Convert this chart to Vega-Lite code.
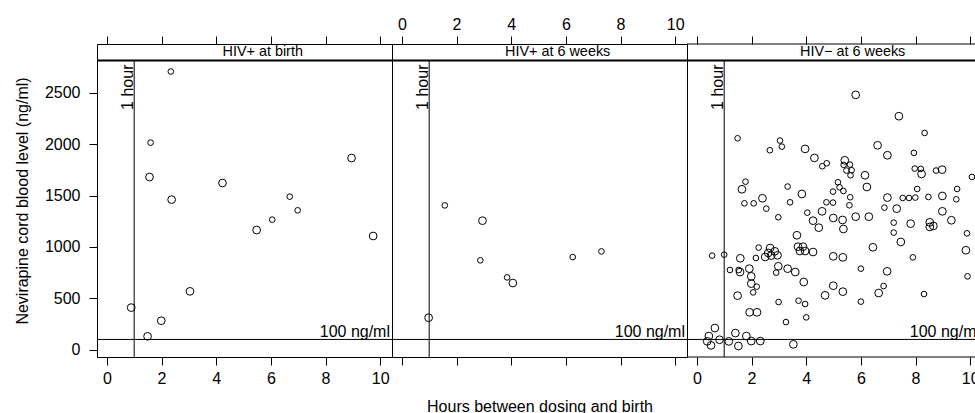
{
  "$schema": "https://vega.github.io/schema/vega-lite/v6.json",
  "background": "white",
  "padding": {"left": 13, "top": 15, "right": 0, "bottom": 0},
  "spacing": 0,
  "bounds": "flush",
  "config": {
    "font": "Liberation Sans",
    "view": {"stroke": "black", "strokeWidth": 1},
    "axis": {"domain": false, "grid": false, "ticks": true, "tickColor": "black", "tickSize": 8, "tickWidth": 1,
      "labelColor": "black", "labelFontSize": 16, "labelFont": "Liberation Sans",
      "titleFont": "Liberation Sans", "titleFontSize": 16, "titleFontWeight": "normal", "titleColor": "black"},
    "axisY": {"orient": "left", "values": [0, 500, 1000, 1500, 2000, 2500], "format": "d", "labelPadding": 9, "titlePadding": 14}
  },
  "datasets": {
    "strips": [
      {"panel": "A", "title": "HIV+ at birth"},
      {"panel": "B", "title": "HIV+ at 6 weeks"},
      {"panel": "C", "title": "HIV− at 6 weeks"}
    ],
    "pts": [
      {"panel":"A","hours":0.89,"nvp":410,"grp":"l"},
      {"panel":"A","hours":1.49,"nvp":130,"grp":"l"},
      {"panel":"A","hours":1.99,"nvp":282,"grp":"l"},
      {"panel":"A","hours":3.04,"nvp":568,"grp":"l"},
      {"panel":"A","hours":1.6,"nvp":2016,"grp":"s"},
      {"panel":"A","hours":1.56,"nvp":1681,"grp":"l"},
      {"panel":"A","hours":2.34,"nvp":2708,"grp":"s"},
      {"panel":"A","hours":2.37,"nvp":1461,"grp":"l"},
      {"panel":"A","hours":4.23,"nvp":1623,"grp":"l"},
      {"panel":"A","hours":5.48,"nvp":1165,"grp":"l"},
      {"panel":"A","hours":6.05,"nvp":1266,"grp":"s"},
      {"panel":"A","hours":6.69,"nvp":1490,"grp":"s"},
      {"panel":"A","hours":6.98,"nvp":1357,"grp":"s"},
      {"panel":"A","hours":8.95,"nvp":1866,"grp":"l"},
      {"panel":"A","hours":9.74,"nvp":1107,"grp":"l"},
      {"panel":"B","hours":1.57,"nvp":1405,"grp":"s"},
      {"panel":"B","hours":2.95,"nvp":1256,"grp":"l"},
      {"panel":"B","hours":2.87,"nvp":870,"grp":"s"},
      {"panel":"B","hours":3.85,"nvp":704,"grp":"s"},
      {"panel":"B","hours":4.06,"nvp":649,"grp":"l"},
      {"panel":"B","hours":6.25,"nvp":902,"grp":"s"},
      {"panel":"B","hours":7.30,"nvp":957,"grp":"s"},
      {"panel":"B","hours":0.98,"nvp":311,"grp":"l"},
      {"panel":"C","hours":5.81,"nvp":2481,"grp":"l"},
      {"panel":"C","hours":7.39,"nvp":2273,"grp":"l"},
      {"panel":"C","hours":8.33,"nvp":2110,"grp":"s"},
      {"panel":"C","hours":1.49,"nvp":2058,"grp":"s"},
      {"panel":"C","hours":3.04,"nvp":2036,"grp":"s"},
      {"panel":"C","hours":3.11,"nvp":1977,"grp":"s"},
      {"panel":"C","hours":2.67,"nvp":1942,"grp":"s"},
      {"panel":"C","hours":3.96,"nvp":1955,"grp":"l"},
      {"panel":"C","hours":6.61,"nvp":1990,"grp":"l"},
      {"panel":"C","hours":6.97,"nvp":1893,"grp":"l"},
      {"panel":"C","hours":7.94,"nvp":1916,"grp":"s"},
      {"panel":"C","hours":4.30,"nvp":1867,"grp":"l"},
      {"panel":"C","hours":4.75,"nvp":1815,"grp":"s"},
      {"panel":"C","hours":4.59,"nvp":1786,"grp":"s"},
      {"panel":"C","hours":5.41,"nvp":1844,"grp":"l"},
      {"panel":"C","hours":5.37,"nvp":1799,"grp":"s"},
      {"panel":"C","hours":5.60,"nvp":1802,"grp":"s"},
      {"panel":"C","hours":5.47,"nvp":1744,"grp":"s"},
      {"panel":"C","hours":5.66,"nvp":1747,"grp":"s"},
      {"panel":"C","hours":5.62,"nvp":1698,"grp":"s"},
      {"panel":"C","hours":6.15,"nvp":1698,"grp":"l"},
      {"panel":"C","hours":7.97,"nvp":1763,"grp":"s"},
      {"panel":"C","hours":8.19,"nvp":1760,"grp":"s"},
      {"panel":"C","hours":8.22,"nvp":1711,"grp":"l"},
      {"panel":"C","hours":8.75,"nvp":1744,"grp":"s"},
      {"panel":"C","hours":8.97,"nvp":1753,"grp":"l"},
      {"panel":"C","hours":10.06,"nvp":1682,"grp":"s"},
      {"panel":"C","hours":1.78,"nvp":1636,"grp":"s"},
      {"panel":"C","hours":1.65,"nvp":1562,"grp":"l"},
      {"panel":"C","hours":3.32,"nvp":1588,"grp":"s"},
      {"panel":"C","hours":5.16,"nvp":1630,"grp":"s"},
      {"panel":"C","hours":5.22,"nvp":1581,"grp":"s"},
      {"panel":"C","hours":4.98,"nvp":1539,"grp":"s"},
      {"panel":"C","hours":5.36,"nvp":1545,"grp":"s"},
      {"panel":"C","hours":6.22,"nvp":1584,"grp":"l"},
      {"panel":"C","hours":3.84,"nvp":1516,"grp":"l"},
      {"panel":"C","hours":2.40,"nvp":1474,"grp":"l"},
      {"panel":"C","hours":1.74,"nvp":1425,"grp":"s"},
      {"panel":"C","hours":2.08,"nvp":1425,"grp":"s"},
      {"panel":"C","hours":2.54,"nvp":1373,"grp":"s"},
      {"panel":"C","hours":3.41,"nvp":1435,"grp":"s"},
      {"panel":"C","hours":4.74,"nvp":1435,"grp":"s"},
      {"panel":"C","hours":4.98,"nvp":1432,"grp":"s"},
      {"panel":"C","hours":5.61,"nvp":1484,"grp":"s"},
      {"panel":"C","hours":5.58,"nvp":1406,"grp":"s"},
      {"panel":"C","hours":6.97,"nvp":1481,"grp":"l"},
      {"panel":"C","hours":7.53,"nvp":1477,"grp":"s"},
      {"panel":"C","hours":7.76,"nvp":1477,"grp":"s"},
      {"panel":"C","hours":7.99,"nvp":1481,"grp":"s"},
      {"panel":"C","hours":8.47,"nvp":1487,"grp":"s"},
      {"panel":"C","hours":8.98,"nvp":1497,"grp":"l"},
      {"panel":"C","hours":9.52,"nvp":1565,"grp":"s"},
      {"panel":"C","hours":9.49,"nvp":1464,"grp":"s"},
      {"panel":"C","hours":6.86,"nvp":1383,"grp":"s"},
      {"panel":"C","hours":7.31,"nvp":1373,"grp":"l"},
      {"panel":"C","hours":4.04,"nvp":1334,"grp":"s"},
      {"panel":"C","hours":4.58,"nvp":1347,"grp":"l"},
      {"panel":"C","hours":2.98,"nvp":1289,"grp":"s"},
      {"panel":"C","hours":4.25,"nvp":1256,"grp":"l"},
      {"panel":"C","hours":4.99,"nvp":1282,"grp":"l"},
      {"panel":"C","hours":5.33,"nvp":1263,"grp":"l"},
      {"panel":"C","hours":5.81,"nvp":1295,"grp":"l"},
      {"panel":"C","hours":6.29,"nvp":1295,"grp":"l"},
      {"panel":"C","hours":4.46,"nvp":1188,"grp":"l"},
      {"panel":"C","hours":5.36,"nvp":1175,"grp":"l"},
      {"panel":"C","hours":7.20,"nvp":1237,"grp":"s"},
      {"panel":"C","hours":7.82,"nvp":1227,"grp":"l"},
      {"panel":"C","hours":8.52,"nvp":1240,"grp":"l"},
      {"panel":"C","hours":8.65,"nvp":1205,"grp":"l"},
      {"panel":"C","hours":8.52,"nvp":1195,"grp":"l"},
      {"panel":"C","hours":8.98,"nvp":1347,"grp":"l"},
      {"panel":"C","hours":9.31,"nvp":1260,"grp":"l"},
      {"panel":"C","hours":7.20,"nvp":1140,"grp":"s"},
      {"panel":"C","hours":9.88,"nvp":1133,"grp":"s"},
      {"panel":"C","hours":3.66,"nvp":1114,"grp":"l"},
      {"panel":"C","hours":7.46,"nvp":1049,"grp":"l"},
      {"panel":"C","hours":2.26,"nvp":994,"grp":"s"},
      {"panel":"C","hours":2.68,"nvp":990,"grp":"l"},
      {"panel":"C","hours":2.61,"nvp":942,"grp":"l"},
      {"panel":"C","hours":2.85,"nvp":958,"grp":"l"},
      {"panel":"C","hours":2.95,"nvp":919,"grp":"l"},
      {"panel":"C","hours":2.50,"nvp":903,"grp":"l"},
      {"panel":"C","hours":2.72,"nvp":916,"grp":"l"},
      {"panel":"C","hours":3.70,"nvp":1003,"grp":"l"},
      {"panel":"C","hours":3.88,"nvp":1003,"grp":"l"},
      {"panel":"C","hours":3.77,"nvp":961,"grp":"l"},
      {"panel":"C","hours":3.96,"nvp":961,"grp":"l"},
      {"panel":"C","hours":4.25,"nvp":951,"grp":"l"},
      {"panel":"C","hours":0.56,"nvp":916,"grp":"s"},
      {"panel":"C","hours":1.00,"nvp":925,"grp":"s"},
      {"panel":"C","hours":1.59,"nvp":890,"grp":"l"},
      {"panel":"C","hours":2.16,"nvp":893,"grp":"s"},
      {"panel":"C","hours":6.44,"nvp":997,"grp":"l"},
      {"panel":"C","hours":4.99,"nvp":909,"grp":"l"},
      {"panel":"C","hours":5.34,"nvp":899,"grp":"l"},
      {"panel":"C","hours":7.90,"nvp":899,"grp":"s"},
      {"panel":"C","hours":9.84,"nvp":968,"grp":"l"},
      {"panel":"C","hours":2.98,"nvp":812,"grp":"l"},
      {"panel":"C","hours":1.21,"nvp":776,"grp":"s"},
      {"panel":"C","hours":1.92,"nvp":789,"grp":"l"},
      {"panel":"C","hours":1.53,"nvp":776,"grp":"s"},
      {"panel":"C","hours":1.58,"nvp":756,"grp":"l"},
      {"panel":"C","hours":3.32,"nvp":789,"grp":"l"},
      {"panel":"C","hours":3.60,"nvp":756,"grp":"l"},
      {"panel":"C","hours":2.90,"nvp":750,"grp":"s"},
      {"panel":"C","hours":6.00,"nvp":789,"grp":"s"},
      {"panel":"C","hours":6.96,"nvp":763,"grp":"l"},
      {"panel":"C","hours":1.99,"nvp":714,"grp":"l"},
      {"panel":"C","hours":9.90,"nvp":714,"grp":"s"},
      {"panel":"C","hours":3.91,"nvp":659,"grp":"l"},
      {"panel":"C","hours":1.99,"nvp":643,"grp":"l"},
      {"panel":"C","hours":2.19,"nvp":614,"grp":"s"},
      {"panel":"C","hours":2.06,"nvp":558,"grp":"s"},
      {"panel":"C","hours":1.49,"nvp":526,"grp":"l"},
      {"panel":"C","hours":4.99,"nvp":623,"grp":"l"},
      {"panel":"C","hours":5.34,"nvp":565,"grp":"l"},
      {"panel":"C","hours":6.83,"nvp":620,"grp":"s"},
      {"panel":"C","hours":6.65,"nvp":552,"grp":"l"},
      {"panel":"C","hours":4.69,"nvp":529,"grp":"l"},
      {"panel":"C","hours":8.31,"nvp":542,"grp":"s"},
      {"panel":"C","hours":2.99,"nvp":464,"grp":"s"},
      {"panel":"C","hours":3.72,"nvp":477,"grp":"s"},
      {"panel":"C","hours":3.96,"nvp":445,"grp":"s"},
      {"panel":"C","hours":6.00,"nvp":468,"grp":"s"},
      {"panel":"C","hours":1.93,"nvp":364,"grp":"l"},
      {"panel":"C","hours":2.20,"nvp":364,"grp":"l"},
      {"panel":"C","hours":4.00,"nvp":315,"grp":"s"},
      {"panel":"C","hours":3.26,"nvp":269,"grp":"s"},
      {"panel":"C","hours":0.66,"nvp":211,"grp":"l"},
      {"panel":"C","hours":0.44,"nvp":133,"grp":"l"},
      {"panel":"C","hours":1.41,"nvp":162,"grp":"l"},
      {"panel":"C","hours":1.81,"nvp":133,"grp":"l"},
      {"panel":"C","hours":0.38,"nvp":81,"grp":"l"},
      {"panel":"C","hours":0.52,"nvp":42,"grp":"l"},
      {"panel":"C","hours":0.83,"nvp":97,"grp":"l"},
      {"panel":"C","hours":1.17,"nvp":81,"grp":"l"},
      {"panel":"C","hours":1.52,"nvp":36,"grp":"l"},
      {"panel":"C","hours":1.99,"nvp":84,"grp":"l"},
      {"panel":"C","hours":2.32,"nvp":84,"grp":"l"},
      {"panel":"C","hours":3.53,"nvp":52,"grp":"l"},
      {"panel":"C","hours":8.06,"nvp":1565,"grp":"s"}
    ]
  },
  "hconcat": [
    {
      "width": 295, "height": 313,
      "resolve": {"axis": {"x": "independent"}},
      "layer": [
        {"data": {"name": "pts"}, "transform": [{"filter": "datum.panel === 'A'"}],
         "mark": {"type": "point", "shape": "circle", "filled": false, "color": "black", "strokeWidth": 1, "opacity": 1},
         "encoding": {
           "x": {"field": "hours", "type": "quantitative", "scale": {"domain": [-0.36, 10.43], "nice": false, "zero": false},
                 "axis": {"orient": "bottom", "values": [0, 2, 4, 6, 8, 10], "title": null, "labelPadding": 5}},
           "y": {"field": "nvp", "type": "quantitative", "scale": {"domain": [-71, 2976], "nice": false, "zero": false},
                 "title": "Nevirapine cord blood level (ng/ml)"},
           "size": {"field": "grp", "type": "ordinal", "scale": {"domain": ["s", "l"], "range": [32, 60]}, "legend": null}
         }},
        {"data": {"name": "strips"}, "transform": [{"filter": "datum.panel === 'A'"}],
         "mark": {"type": "rule", "color": "black", "strokeWidth": 1},
         "encoding": {
           "x": {"datum": 1, "type": "quantitative", "axis": {"orient": "top", "values": [0, 2, 4, 6, 8, 10], "labels": false, "title": null}},
           "y": {"datum": -71, "type": "quantitative", "title": "Nevirapine cord blood level (ng/ml)"}, "y2": {"datum": 2815}}},
        {"data": {"name": "strips"}, "transform": [{"filter": "datum.panel === 'A'"}],
         "mark": {"type": "rule", "color": "black", "strokeWidth": 1},
         "encoding": {"y": {"datum": 100, "type": "quantitative", "title": "Nevirapine cord blood level (ng/ml)"}}},
        {"data": {"name": "strips"}, "transform": [{"filter": "datum.panel === 'A'"}],
         "mark": {"type": "rule", "color": "black", "strokeWidth": 2},
         "encoding": {"y": {"datum": 2815, "type": "quantitative", "title": "Nevirapine cord blood level (ng/ml)"}}},
        {"data": {"name": "strips"}, "transform": [{"filter": "datum.panel === 'A'"}],
         "mark": {"type": "text", "text": "1 hour", "angle": 270, "align": "right", "baseline": "alphabetic", "dx": -4, "dy": -1.5, "fontSize": 16, "color": "black"},
         "encoding": {"x": {"datum": 1, "type": "quantitative", "axis": null}, "y": {"datum": 2815, "type": "quantitative", "title": "Nevirapine cord blood level (ng/ml)"}}},
        {"data": {"name": "strips"}, "transform": [{"filter": "datum.panel === 'A'"}],
         "mark": {"type": "text", "text": "100 ng/ml", "align": "right", "baseline": "alphabetic", "dx": -2, "dy": -2, "fontSize": 16, "color": "black"},
         "encoding": {"x": {"datum": 10.43, "type": "quantitative", "axis": null}, "y": {"datum": 100, "type": "quantitative", "title": "Nevirapine cord blood level (ng/ml)"}}},
        {"data": {"name": "strips"}, "transform": [{"filter": "datum.panel === 'A'"}],
         "mark": {"type": "text", "align": "center", "baseline": "middle", "fontSize": 14.4, "color": "black"},
         "encoding": {"text": {"field": "title"}, "x": {"datum": 5.7, "type": "quantitative", "axis": null}, "y": {"datum": 2895, "type": "quantitative", "title": "Nevirapine cord blood level (ng/ml)"}}}
      ]
    },
    {
      "width": 295, "height": 313,
      "resolve": {"axis": {"x": "independent"}},
      "layer": [
        {"data": {"name": "pts"}, "transform": [{"filter": "datum.panel === 'B'"}],
         "mark": {"type": "point", "shape": "circle", "filled": false, "color": "black", "strokeWidth": 1, "opacity": 1},
         "encoding": {
           "x": {"field": "hours", "type": "quantitative", "scale": {"domain": [-0.36, 10.43], "nice": false, "zero": false},
                 "axis": {"orient": "top", "values": [0, 2, 4, 6, 8, 10], "title": null, "labelPadding": 4}},
           "y": {"field": "nvp", "type": "quantitative", "scale": {"domain": [-71, 2976], "nice": false, "zero": false}, "axis": null},
           "size": {"field": "grp", "type": "ordinal", "scale": {"domain": ["s", "l"], "range": [32, 60]}, "legend": null}
         }},
        {"data": {"name": "strips"}, "transform": [{"filter": "datum.panel === 'B'"}],
         "mark": {"type": "rule", "color": "black", "strokeWidth": 1},
         "encoding": {
           "x": {"datum": 1, "type": "quantitative", "axis": {"orient": "bottom", "values": [0, 2, 4, 6, 8, 10], "labelOpacity": 0, "labelPadding": 5, "title": "Hours between dosing and birth", "titlePadding": 12}},
           "y": {"datum": -71, "type": "quantitative", "axis": null}, "y2": {"datum": 2815}}},
        {"data": {"name": "strips"}, "transform": [{"filter": "datum.panel === 'B'"}],
         "mark": {"type": "rule", "color": "black", "strokeWidth": 1},
         "encoding": {"y": {"datum": 100, "type": "quantitative", "axis": null}}},
        {"data": {"name": "strips"}, "transform": [{"filter": "datum.panel === 'B'"}],
         "mark": {"type": "rule", "color": "black", "strokeWidth": 2},
         "encoding": {"y": {"datum": 2815, "type": "quantitative", "axis": null}}},
        {"data": {"name": "strips"}, "transform": [{"filter": "datum.panel === 'B'"}],
         "mark": {"type": "text", "text": "1 hour", "angle": 270, "align": "right", "baseline": "alphabetic", "dx": -4, "dy": -1.5, "fontSize": 16, "color": "black"},
         "encoding": {"x": {"datum": 1, "type": "quantitative", "axis": null}, "y": {"datum": 2815, "type": "quantitative", "axis": null}}},
        {"data": {"name": "strips"}, "transform": [{"filter": "datum.panel === 'B'"}],
         "mark": {"type": "text", "text": "100 ng/ml", "align": "right", "baseline": "alphabetic", "dx": -2, "dy": -2, "fontSize": 16, "color": "black"},
         "encoding": {"x": {"datum": 10.43, "type": "quantitative", "axis": null}, "y": {"datum": 100, "type": "quantitative", "axis": null}}},
        {"data": {"name": "strips"}, "transform": [{"filter": "datum.panel === 'B'"}],
         "mark": {"type": "text", "align": "center", "baseline": "middle", "fontSize": 14.4, "color": "black"},
         "encoding": {"text": {"field": "title"}, "x": {"datum": 5.7, "type": "quantitative", "axis": null}, "y": {"datum": 2895, "type": "quantitative", "axis": null}}}
      ]
    },
    {
      "width": 289, "height": 313,
      "view": {"stroke": null},
      "resolve": {"axis": {"x": "independent"}},
      "layer": [
        {"data": {"name": "pts"}, "transform": [{"filter": "datum.panel === 'C'"}],
         "mark": {"type": "point", "shape": "circle", "filled": false, "color": "black", "strokeWidth": 1, "opacity": 1},
         "encoding": {
           "x": {"field": "hours", "type": "quantitative", "scale": {"domain": [-0.36, 10.21], "nice": false, "zero": false},
                 "axis": {"orient": "bottom", "values": [0, 2, 4, 6, 8, 10], "title": null, "labelPadding": 5}},
           "y": {"field": "nvp", "type": "quantitative", "scale": {"domain": [-71, 2976], "nice": false, "zero": false}, "axis": null},
           "size": {"field": "grp", "type": "ordinal", "scale": {"domain": ["s", "l"], "range": [32, 60]}, "legend": null}
         }},
        {"data": {"name": "strips"}, "transform": [{"filter": "datum.panel === 'C'"}],
         "mark": {"type": "rule", "color": "black", "strokeWidth": 1},
         "encoding": {
           "x": {"datum": 1, "type": "quantitative", "axis": {"orient": "top", "values": [0, 2, 4, 6, 8, 10], "labels": false, "title": null}},
           "y": {"datum": -71, "type": "quantitative", "axis": null}, "y2": {"datum": 2815}}},
        {"data": {"name": "strips"}, "transform": [{"filter": "datum.panel === 'C'"}],
         "mark": {"type": "rule", "color": "black", "strokeWidth": 1},
         "encoding": {"y": {"datum": 100, "type": "quantitative", "axis": null}}},
        {"data": {"name": "strips"}, "transform": [{"filter": "datum.panel === 'C'"}],
         "mark": {"type": "rule", "color": "black", "strokeWidth": 1},
         "encoding": {"y": {"datum": 2976, "type": "quantitative", "axis": null}}},
        {"data": {"name": "strips"}, "transform": [{"filter": "datum.panel === 'C'"}],
         "mark": {"type": "rule", "color": "black", "strokeWidth": 1},
         "encoding": {"y": {"datum": -71, "type": "quantitative", "axis": null}}},
        {"data": {"name": "strips"}, "transform": [{"filter": "datum.panel === 'C'"}],
         "mark": {"type": "rule", "color": "black", "strokeWidth": 2},
         "encoding": {"y": {"datum": 2815, "type": "quantitative", "axis": null}}},
        {"data": {"name": "strips"}, "transform": [{"filter": "datum.panel === 'C'"}],
         "mark": {"type": "text", "text": "1 hour", "angle": 270, "align": "right", "baseline": "alphabetic", "dx": -4, "dy": -1.5, "fontSize": 16, "color": "black"},
         "encoding": {"x": {"datum": 1, "type": "quantitative", "axis": null}, "y": {"datum": 2815, "type": "quantitative", "axis": null}}},
        {"data": {"name": "strips"}, "transform": [{"filter": "datum.panel === 'C'"}],
         "mark": {"type": "text", "text": "100 ng/ml", "align": "right", "baseline": "alphabetic", "dx": -2, "dy": -2, "fontSize": 16, "color": "black", "clip": true},
         "encoding": {"x": {"datum": 10.43, "type": "quantitative", "axis": null}, "y": {"datum": 100, "type": "quantitative", "axis": null}}},
        {"data": {"name": "strips"}, "transform": [{"filter": "datum.panel === 'C'"}],
         "mark": {"type": "text", "align": "center", "baseline": "middle", "fontSize": 14.4, "color": "black"},
         "encoding": {"text": {"field": "title"}, "x": {"datum": 5.7, "type": "quantitative", "axis": null}, "y": {"datum": 2895, "type": "quantitative", "axis": null}}}
      ]
    }
  ]
}
